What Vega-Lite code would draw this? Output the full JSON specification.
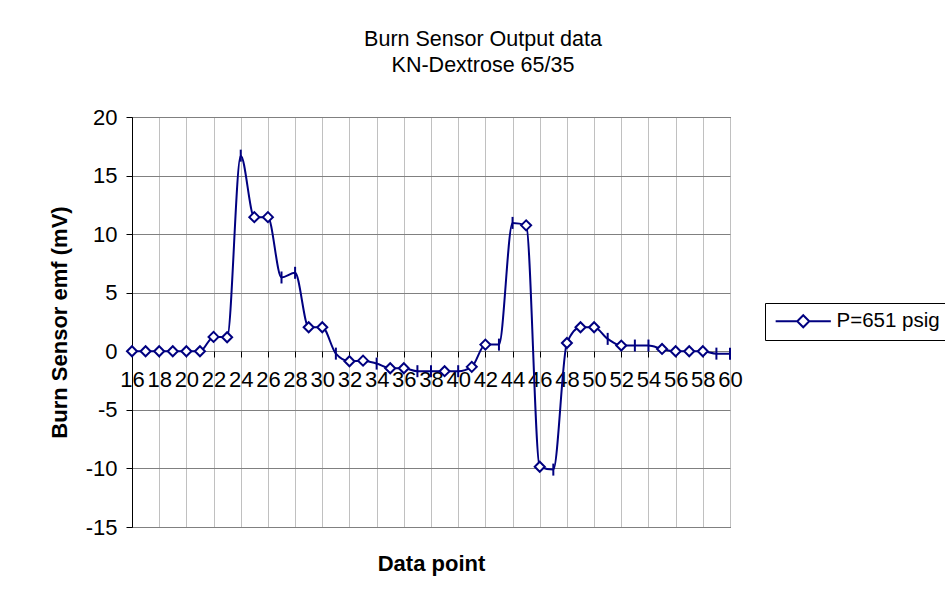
{
  "$schema": "https://vega.github.io/schema/vega-lite/v6.json",
  "autosize": {"type": "none"},
  "padding": {"left": 132, "top": 117, "right": 215, "bottom": 84},
  "width": 598,
  "height": 410,
  "background": "white",
  "title": {
    "text": ["Burn Sensor Output data", "KN-Dextrose 65/35"],
    "font": "Liberation Sans",
    "fontSize": 21.5,
    "fontWeight": "normal",
    "color": "black",
    "anchor": "middle",
    "dx": 52,
    "offset": 29,
    "lineHeight": 26.7
  },
  "config": {
    "view": {"stroke": "black", "strokeWidth": 1},
    "axis": {
      "labelFont": "Liberation Sans",
      "titleFont": "Liberation Sans",
      "labelColor": "black",
      "titleColor": "black",
      "labelFontSize": 22,
      "titleFontSize": 22,
      "titleFontWeight": "bold"
    }
  },
  "data": {
    "values": [
      {"point": 16, "emf": 0, "marker": "diamond", "series": "P=651 psig"},
      {"point": 17, "emf": 0, "marker": "diamond", "series": "P=651 psig"},
      {"point": 18, "emf": 0, "marker": "diamond", "series": "P=651 psig"},
      {"point": 19, "emf": 0, "marker": "diamond", "series": "P=651 psig"},
      {"point": 20, "emf": 0, "marker": "diamond", "series": "P=651 psig"},
      {"point": 21, "emf": 0, "marker": "diamond", "series": "P=651 psig"},
      {"point": 22, "emf": 1.23, "marker": "diamond", "series": "P=651 psig"},
      {"point": 23, "emf": 1.2, "marker": "diamond", "series": "P=651 psig"},
      {"point": 24, "emf": 16.7, "marker": "tick", "series": "P=651 psig"},
      {"point": 25, "emf": 11.45, "marker": "diamond", "series": "P=651 psig"},
      {"point": 26, "emf": 11.45, "marker": "diamond", "series": "P=651 psig"},
      {"point": 27, "emf": 6.3, "marker": "tick", "series": "P=651 psig"},
      {"point": 28, "emf": 6.7, "marker": "tick", "series": "P=651 psig"},
      {"point": 29, "emf": 2.05, "marker": "diamond", "series": "P=651 psig"},
      {"point": 30, "emf": 2.05, "marker": "diamond", "series": "P=651 psig"},
      {"point": 31, "emf": -0.2, "marker": "tick", "series": "P=651 psig"},
      {"point": 32, "emf": -0.85, "marker": "diamond", "series": "P=651 psig"},
      {"point": 33, "emf": -0.8, "marker": "diamond", "series": "P=651 psig"},
      {"point": 34, "emf": -1.05, "marker": "tick", "series": "P=651 psig"},
      {"point": 35, "emf": -1.45, "marker": "diamond", "series": "P=651 psig"},
      {"point": 36, "emf": -1.45, "marker": "diamond", "series": "P=651 psig"},
      {"point": 37, "emf": -1.7, "marker": "tick", "series": "P=651 psig"},
      {"point": 38, "emf": -1.7, "marker": "tick", "series": "P=651 psig"},
      {"point": 39, "emf": -1.7, "marker": "diamond", "series": "P=651 psig"},
      {"point": 40, "emf": -1.7, "marker": "tick", "series": "P=651 psig"},
      {"point": 41, "emf": -1.33, "marker": "diamond", "series": "P=651 psig"},
      {"point": 42, "emf": 0.57, "marker": "diamond", "series": "P=651 psig"},
      {"point": 43, "emf": 0.57, "marker": "tick", "series": "P=651 psig"},
      {"point": 44, "emf": 10.96, "marker": "tick", "series": "P=651 psig"},
      {"point": 45, "emf": 10.75, "marker": "diamond", "series": "P=651 psig"},
      {"point": 46, "emf": -9.86, "marker": "diamond", "series": "P=651 psig"},
      {"point": 47, "emf": -10.1, "marker": "tick", "series": "P=651 psig"},
      {"point": 48, "emf": 0.71, "marker": "diamond", "series": "P=651 psig"},
      {"point": 49, "emf": 2.05, "marker": "diamond", "series": "P=651 psig"},
      {"point": 50, "emf": 2.05, "marker": "diamond", "series": "P=651 psig"},
      {"point": 51, "emf": 1.06, "marker": "tick", "series": "P=651 psig"},
      {"point": 52, "emf": 0.49, "marker": "diamond", "series": "P=651 psig"},
      {"point": 53, "emf": 0.49, "marker": "tick", "series": "P=651 psig"},
      {"point": 54, "emf": 0.49, "marker": "tick", "series": "P=651 psig"},
      {"point": 55, "emf": 0.2, "marker": "diamond", "series": "P=651 psig"},
      {"point": 56, "emf": 0, "marker": "diamond", "series": "P=651 psig"},
      {"point": 57, "emf": 0, "marker": "diamond", "series": "P=651 psig"},
      {"point": 58, "emf": 0, "marker": "diamond", "series": "P=651 psig"},
      {"point": 59, "emf": -0.2, "marker": "tick", "series": "P=651 psig"},
      {"point": 60, "emf": -0.2, "marker": "tick", "series": "P=651 psig"}
    ]
  },
  "encoding": {
    "y": {
      "field": "emf",
      "type": "quantitative",
      "scale": {"domain": [-15, 20], "nice": false, "zero": false},
      "axis": {
        "title": "Burn Sensor emf (mV)",
        "values": [-15, -10, -5, 0, 5, 10, 15, 20],
        "labelExpr": "datum.value + ''",
        "grid": true,
        "gridColor": "#808080",
        "gridWidth": 1,
        "gridOpacity": 1,
        "domainColor": "black",
        "tickColor": "black",
        "tickSize": 6,
        "labelPadding": 9,
        "titlePadding": 14
      }
    }
  },
  "resolve": {"axis": {"x": "independent"}},
  "layer": [
    {
      "mark": {"type": "line", "interpolate": "monotone", "strokeWidth": 2},
      "encoding": {
        "x": {
          "field": "point",
          "type": "quantitative",
          "scale": {"domain": [16, 60], "nice": false, "zero": false},
          "axis": {
            "orient": "bottom",
            "title": "Data point",
            "values": [16, 18, 20, 22, 24, 26, 28, 30, 32, 34, 36, 38, 40, 42, 44, 46, 48, 50, 52, 54, 56, 58, 60],
            "grid": true,
            "gridColor": "#c0c0c0",
            "gridOpacity": 1,
            "labels": false,
            "ticks": false,
            "domain": false,
            "titlePadding": 26
          }
        },
        "color": {
          "field": "series",
          "type": "nominal",
          "scale": {"range": ["#000080"]},
          "legend": {
            "title": null,
            "orient": "none",
            "legendX": 633,
            "legendY": 186,
            "strokeColor": "black",
            "fillColor": "white",
            "padding": 8,
            "cornerRadius": 0,
            "labelFont": "Liberation Sans",
            "labelFontSize": 20.5,
            "labelColor": "black",
            "symbolType": "M-4.6,0H-1M1,0H4.6M0,-1L1,0L0,1L-1,0Z",
            "symbolSize": 144,
            "symbolStrokeWidth": 2,
            "symbolFillColor": "white",
            "symbolOffset": 20,
            "labelOffset": 23
          }
        }
      }
    },
    {
      "mark": {"type": "point", "filled": false, "stroke": "#000080", "fill": "white", "fillOpacity": 1, "strokeWidth": 2, "opacity": 1, "size": 100},
      "encoding": {
        "x": {
          "field": "point",
          "type": "quantitative",
          "axis": {
            "orient": "bottom",
            "title": null,
            "offset": -176,
            "values": [16, 18, 20, 22, 24, 26, 28, 30, 32, 34, 36, 38, 40, 42, 44, 46, 48, 50, 52, 54, 56, 58, 60],
            "format": "d",
            "grid": false,
            "domain": false,
            "ticks": true,
            "tickColor": "black",
            "tickSize": 6,
            "labelPadding": 12,
            "labelOverlap": false,
            "labelFlush": false
          }
        },
        "shape": {
          "field": "marker",
          "type": "nominal",
          "scale": {"domain": ["diamond", "tick"], "range": ["diamond", "M0,-1L0,1"]},
          "legend": null
        },
        "size": {
          "field": "marker",
          "type": "nominal",
          "scale": {"domain": ["diamond", "tick"], "range": [100, 144]},
          "legend": null
        }
      }
    }
  ]
}
